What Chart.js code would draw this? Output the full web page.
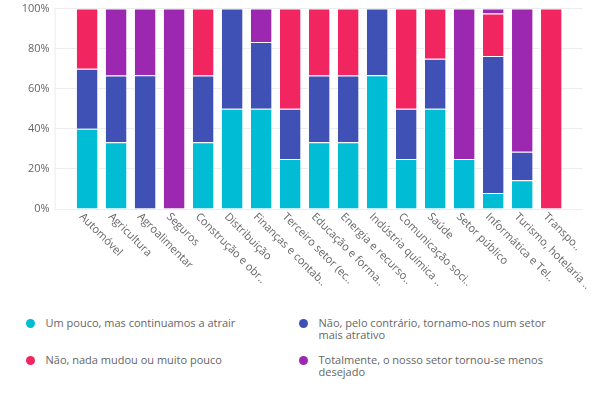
<!DOCTYPE html>
<html>
<head>
<meta charset="utf-8">
<script src="https://cdn.jsdelivr.net/npm/chart.js@4"></script>
<style>
  body { margin: 0; background: #fff; font-family: 'Open Sans', sans-serif; }
  #wrap { position: relative; width: 598px; height: 396px; overflow: hidden; }
  #chart { position: absolute; left: 0; top: -3px; }
  .leg { position: absolute; display: flex; align-items: flex-start; font-size: 11px; line-height: 12px; color: #666; }
  .leg i { display: block; width: 9px; height: 9px; border-radius: 50%; margin-top: 1.5px; margin-right: 11px; flex: none; }
  .leg span { width: 232px; }
</style>
</head>
<body>
<div id="wrap">
  <canvas id="chart" width="598" height="300"></canvas>
  <div id="legend"></div>
</div>
<script>
// categorias (como aparecem no gráfico, já truncadas)
const categories = [
  'Automóvel', 'Agricultura', 'Agroalimentar', 'Seguros', 'Construção e obr..',
  'Distribuição', 'Finanças e contab..', 'Terceiro setor (ec..', 'Educação e forma..',
  'Energia e recurso..', 'Indústria química ..', 'Comunicação soci..', 'Saúde',
  'Setor público', 'Informática e Tel..', 'Turismo, hotelaria ..', 'Transpo..'
];

const seriesNames = [
  'Um pouco, mas continuamos a atrair',
  'Não, pelo contrário, tornamo-nos num setor mais atrativo',
  'Não, nada mudou ou muito pouco',
  'Totalmente, o nosso setor tornou-se menos desejado'
];
const seriesColors = ['#00bcd4', '#3f51b5', '#f12660', '#9c27b0'];

// valores em %
const umPouco     = [40, 33.3, 0, 0, 33.3, 50, 50, 25, 33.3, 33.3, 66.7, 25, 50, 25, 8, 14.3, 0];
const maisAtrativo = [30, 33.3, 66.7, 0, 33.3, 50, 33.3, 25, 33.3, 33.3, 33.3, 25, 25, 0, 68.3, 14.3, 0];
const nadaMudou   = [30, 0, 0, 0, 33.4, 0, 0, 50, 33.4, 33.4, 0, 50, 25, 0, 21.2, 0, 100];
const menosDesejado = [0, 33.4, 33.3, 100, 0, 0, 16.7, 0, 0, 0, 0, 0, 0, 75, 2.5, 71.4, 0];

const yTicks = [0, 20, 40, 60, 80, 100];

const seriesData = [umPouco, maisAtrativo, nadaMudou, menosDesejado];
const gridColor = '#ededed';
const font = { family: "'Open Sans', sans-serif", size: 11 };

// labels do eixo x rodados para baixo/direita
const xLabels = {
  id: 'xLabels',
  afterDraw(chart) {
    const ctx = chart.ctx, xs = chart.scales.x, area = chart.chartArea;
    ctx.save();
    // linha vertical fina à esquerda
    ctx.strokeStyle = gridColor;
    ctx.lineWidth = 1;
    ctx.beginPath();
    ctx.moveTo(area.left - 18 + 0.5, area.top);
    ctx.lineTo(area.left - 18 + 0.5, area.bottom);
    ctx.stroke();

    ctx.fillStyle = '#666';
    ctx.font = "11px 'Open Sans', sans-serif";
    ctx.textAlign = 'left';
    ctx.textBaseline = 'middle';
    categories.forEach((lab, i) => {
      const x = xs.getPixelForTick(i);
      ctx.save();
      ctx.translate(x - 6, area.bottom + 6);
      ctx.rotate(Math.PI / 4);
      ctx.fillText(lab, 0, 0);
      ctx.restore();
    });
    ctx.restore();
  }
};

new Chart(document.getElementById('chart'), {
  type: 'bar',
  data: {
    labels: categories,
    datasets: seriesData.map((d, i) => ({
      label: seriesNames[i],
      data: d,
      backgroundColor: seriesColors[i],
      borderColor: 'rgba(255,255,255,0.55)',
      borderWidth: 1,
      categoryPercentage: 1,
      barPercentage: 0.77
    }))
  },
  options: {
    responsive: false,
    animation: false,
    layout: { padding: { top: 2, right: 0, bottom: 88, left: 0 } },
    plugins: { legend: { display: false }, tooltip: { enabled: false } },
    scales: {
      x: {
        stacked: true,
        ticks: { display: false },
        grid: { display: false, drawTicks: false },
        border: { display: false }
      },
      y: {
        stacked: true,
        min: 0,
        max: 100,
        afterBuildTicks: (s) => { s.ticks = yTicks.map(v => ({ value: v })); },
        afterFit: (s) => { s.width = 72.6; },
        ticks: { color: '#666', font, padding: 5, callback: v => v + '%' },
        grid: { color: gridColor, tickLength: 18 },
        border: { display: false }
      },
      y2: {
        position: 'right',
        min: 0,
        max: 100,
        afterBuildTicks: (s) => { s.ticks = yTicks.map(v => ({ value: v })); },
        afterFit: (s) => { s.width = 32.3; },
        ticks: { display: false },
        grid: { color: gridColor, tickLength: 17, drawOnChartArea: false },
        border: { display: false }
      }
    }
  },
  plugins: [xLabels]
});

// legenda em HTML, duas colunas
const legend = document.getElementById('legend');
seriesNames.forEach((name, i) => {
  const item = document.createElement('div');
  item.className = 'leg';
  item.style.left = (25.5 + (i % 2) * 273) + 'px';
  item.style.top = (317 + Math.floor(i / 2) * 37) + 'px';
  item.innerHTML = `<i style="background:${seriesColors[i]}"></i><span>${name}</span>`;
  legend.appendChild(item);
});
</script>
</body>
</html>
